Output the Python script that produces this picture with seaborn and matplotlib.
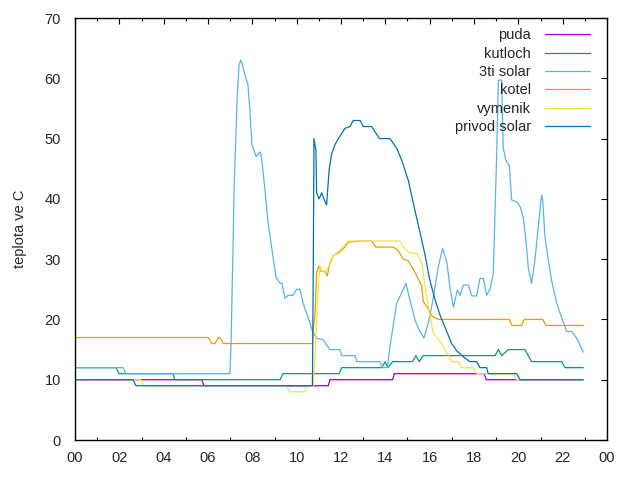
import numpy as np
import pandas as pd
import matplotlib
matplotlib.use("Agg")
import matplotlib.pyplot as plt
import seaborn as sns

# ---- data (time in hours, temperature in C) ----
puda_t = [0, 5.72, 5.82, 11.43, 11.50, 14.33, 14.40, 18.46, 18.55, 22.93]
puda_v = [10, 10, 9, 9, 10, 10, 11, 11, 10, 10]

kutloch_t = [0, 1.85, 1.98, 4.41, 4.51, 9.25, 9.38, 11.92, 12.03, 13.84, 13.99, 14.11, 14.33,
             15.23, 15.38, 15.53, 15.71, 18.95, 19.10, 19.25, 19.55, 20.30, 20.60, 21.96, 22.11, 22.93]
kutloch_v = [12, 12, 11, 11, 10, 10, 11, 11, 12, 12, 13, 12, 13,
             13, 14, 13, 14, 14, 15, 14, 15, 15, 13, 13, 12, 12]

solar3_t = [0, 2.17, 2.30, 6.99, 7.04, 7.08, 7.13, 7.17, 7.22, 7.26, 7.31, 7.40, 7.48, 7.53,
            7.67, 7.80, 7.89, 7.98, 8.17, 8.35, 8.42, 8.57, 8.71, 8.89, 9.07, 9.25, 9.34,
            9.47, 9.61, 9.83, 10.00, 10.15, 10.29, 10.45, 10.60, 10.71, 10.90, 11.20, 11.50,
            11.95, 12.03, 12.63, 12.71, 13.76, 13.88, 14.09, 14.21, 14.51, 14.66, 14.93, 15.11,
            15.34, 15.53, 15.74, 15.94, 16.16, 16.39, 16.58, 16.77, 16.92, 17.07, 17.25, 17.37,
            17.52, 17.74, 17.90, 18.12, 18.27, 18.42, 18.57, 18.72, 18.87, 18.95, 19.02, 19.10,
            19.25, 19.32, 19.44, 19.59, 19.70, 19.93, 20.08, 20.22, 20.35, 20.45, 20.60, 20.75,
            20.90, 21.05, 21.10, 21.20, 21.35, 21.51, 21.73, 21.96, 22.18, 22.41, 22.63, 22.93]
solar3_v = [12, 12, 11, 11, 16, 23.5, 32, 40.6, 46.8, 50.3, 56.4, 62.2, 63, 62.5,
            60.5, 59, 54.7, 49, 47, 47.8, 46.7, 41.5, 36, 31.5, 27, 26, 26,
            23.5, 24, 24, 25, 25, 22.7, 21, 19.4, 18, 16.9, 16.6, 15,
            15, 14, 14, 13, 13, 12, 12, 15.5, 22.7, 23.8, 26, 23.2,
            19.9, 18.2, 16.9, 19.4, 23.5, 28.7, 31.8, 29.6, 25.2, 22, 24.9, 24,
            25.7, 25.7, 23.9, 23.9, 26.8, 26.8, 24, 25, 27.6, 38, 47, 59.7,
            59.7, 48.4, 46.4, 45.6, 39.8, 39.5, 38.7, 37, 32.9, 28.5, 26, 29.9,
            35.4, 40.6, 39.8, 33.7, 29.9, 26.3, 22.7, 20.2, 18, 18, 16.9, 14.6]

kotel_t = [0, 6.01, 6.17, 6.32, 6.47, 6.54, 6.69, 10.71, 10.75, 10.83, 10.90, 11.01, 11.05,
           11.28, 11.38, 11.47, 11.65, 11.92, 12.10, 12.33, 12.83, 13.38, 13.58, 14.36, 14.58,
           14.81, 15.04, 15.34, 15.49, 15.64, 15.71, 15.94, 16.09, 16.39, 19.59, 19.71, 20.15,
           20.26, 21.10, 21.25, 22.93]
kotel_v = [17, 17, 16, 16, 17, 17, 16, 16, 18.3, 21, 27.8, 28.9, 28,
           28, 27.2, 28.9, 30.6, 31.1, 31.7, 32.8, 33, 33, 32, 32, 31.4,
           30, 29.7, 27.8, 26.7, 25.6, 23, 21.7, 20.6, 20, 20, 19, 19,
           20, 20, 19, 19]

vymenik_t = [0, 2.98, 3.11, 9.55, 9.67, 10.38, 10.48, 10.75, 10.83, 10.90, 10.98, 11.05, 11.13,
             11.35, 11.50, 11.65, 11.95, 12.33, 14.66, 14.81, 15.11, 15.42, 15.64, 15.79, 15.94,
             16.16, 16.54, 16.77, 16.99, 17.29, 17.44, 17.97, 18.12, 19.77, 19.93, 22.93]
vymenik_v = [10, 10, 9, 9, 8, 8, 9, 9, 14.5, 20, 25.6, 28.9, 28,
             28, 29.4, 30.6, 31.4, 33, 33, 32, 31, 31, 29.4, 25.6, 22,
             17.8, 16, 14.5, 13, 13, 12, 12, 11, 11, 10, 10]

privod_t = [0, 2.62, 2.75, 10.71, 10.75, 10.78, 10.87, 10.90, 11.01, 11.13, 11.23, 11.35, 11.47,
            11.58, 11.73, 11.88, 12.18, 12.41, 12.55, 12.86, 13.01, 13.38, 13.73, 14.21, 14.51,
            14.74, 15.04, 15.34, 15.56, 15.79, 16.01, 16.24, 16.47, 16.77, 16.99, 17.22, 17.52,
            17.82, 18.12, 18.27, 18.57, 18.64, 19.93, 20.08, 22.93]
privod_v = [10, 10, 9, 9, 29, 50, 48, 41, 40, 41, 40, 39, 45,
            47.5, 49, 50, 51.7, 52, 53, 53, 52, 52, 50, 50, 48.4,
            46.4, 43, 38, 34.5, 30.7, 26.5, 23.3, 20.7, 18, 16, 14.8, 13.8,
            13, 13, 12, 12, 11, 11, 10, 10]

series_names = ["puda", "kutloch", "3ti solar", "kotel", "vymenik", "privod solar"]
series_t = [puda_t, kutloch_t, solar3_t, kotel_t, vymenik_t, privod_t]
series_v = [puda_v, kutloch_v, solar3_v, kotel_v, vymenik_v, privod_v]
colors = ["#9400d3", "#009e73", "#56b4e9", "#e69f00", "#f0e442", "#0072b2"]

xtick_vals = list(range(0, 25, 2))
xtick_labels = ["%02d" % (h % 24) for h in xtick_vals]
ytick_vals = list(range(0, 71, 10))

frames = []
for name, t, v in zip(series_names, series_t, series_v):
    frames.append(pd.DataFrame({"time": t, "temp": v, "series": name}))
df = pd.concat(frames, ignore_index=True)

sns.set_style("white")
plt.rcParams["font.family"] = ["Liberation Sans", "DejaVu Sans"]

LW = 0.9

fig = plt.figure(figsize=(6.4, 4.8), dpi=100)
ax = fig.add_axes([75 / 640, 40 / 480, 532 / 640, 422 / 480])

sns.lineplot(data=df, x="time", y="temp", hue="series", hue_order=series_names,
             palette=dict(zip(series_names, colors)), sort=False, estimator=None,
             units="series", linewidth=LW, ax=ax, legend=True)

ax.set_xlim(0, 24)
ax.set_ylim(0, 70)
ax.set_xticks(xtick_vals)
ax.set_xticklabels(xtick_labels)
ax.set_xticks(range(1, 24, 2), minor=True)
ax.set_yticks(ytick_vals)
ax.set_xlabel("")
ax.set_ylabel("teplota ve C", fontsize=10.5, labelpad=13)

for s in ax.spines.values():
    s.set_color("black")
    s.set_linewidth(1.0)
    s.set_visible(True)

ax.tick_params(axis="both", which="major", direction="in", length=4.5, width=0.8,
               top=True, right=True, labelsize=10.5, color="black")
ax.tick_params(axis="x", which="major", pad=8)
ax.tick_params(axis="y", which="major", pad=10)
ax.tick_params(axis="x", which="minor", direction="in", length=2.5, width=0.8,
               top=True, bottom=True, color="black")

handles, labels = ax.get_legend_handles_labels()
leg = ax.legend(handles, labels, loc="upper right", frameon=False, markerfirst=False,
                fontsize=10.5, handlelength=3.1, handletextpad=0.95, labelspacing=0.3,
                borderaxespad=0, bbox_to_anchor=((596 - 75) / 532, 1 - 4.5 / 422))
for h in leg.get_lines():
    h.set_linewidth(LW)

fig.savefig("out.png", dpi=100)
